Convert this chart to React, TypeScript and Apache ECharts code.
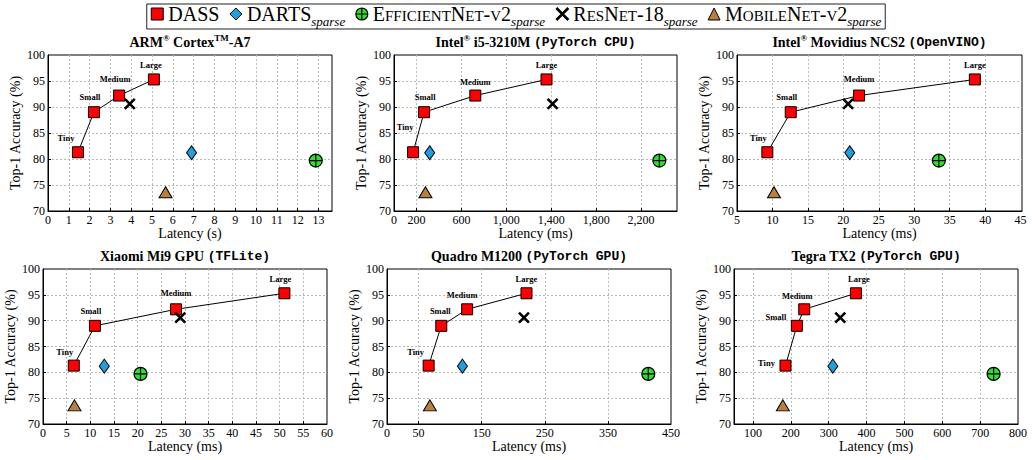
import React, { useEffect, useRef } from 'react';
import * as echarts from 'echarts';

// ---------- DATA ----------
const dassLabels = ['Tiny', 'Small', 'Medium', 'Large'];
const dassAccuracy = [81.3, 89.0, 92.2, 95.3];
// latency per panel: ARM (s), Intel CPU (ms), NCS2 (ms), Xiaomi (ms), Quadro (ms), Tegra (ms)
const dassLatency = [
  [1.44, 2.21, 3.42, 5.09],
  [170, 268, 724, 1358],
  [9.28, 12.58, 22.22, 38.55],
  [6.5, 10.97, 28.1, 51.0],
  [66, 86, 127, 221],
  [186, 216, 235.5, 372],
];
const dartsAccuracy = 81.2;
const dartsLatency = [6.9, 318, 20.9, 12.95, 119.5, 311];
const effAccuracy = 79.7;
const effLatency = [12.87, 2363, 33.47, 20.6, 414, 735.6];
const resnetAccuracy = 90.6;
const resnetLatency = [3.93, 1412, 20.67, 29.0, 217, 330.6];
const mobileAccuracy = 73.6;
const mobileLatency = [5.65, 280, 10.22, 6.65, 68, 179];

const yTickLabels = [70, 75, 80, 85, 90, 95, 100];
const yGridValues = [75, 80, 85, 90, 95];

const xAxisMin = [0, 0, 5, 0, 0, 50];
const xAxisMax = [13.65, 2520, 45.2, 60, 450, 800];
const xTickLabels = [
  [0, 1, 2, 3, 4, 5, 6, 7, 8, 9, 10, 11, 12, 13],
  [0, 200, 600, 1000, 1400, 1800, 2200],
  [5, 10, 15, 20, 25, 30, 35, 40, 45],
  [0, 5, 10, 15, 20, 25, 30, 35, 40, 45, 50, 55, 60],
  [0, 50, 150, 250, 350, 450],
  [100, 200, 300, 400, 500, 600, 700, 800],
];
const xGridValues = [
  [1, 2, 3, 4, 5, 6, 7, 8, 9, 10, 11, 12, 13],
  [200, 600, 1000, 1400, 1800, 2200],
  [10, 15, 20, 25, 30, 35, 40],
  [5, 10, 15, 20, 25, 30, 35, 40, 45, 50, 55],
  [50, 150, 250, 350],
  [100, 200, 300, 400, 500, 600, 700],
];
const xAxisNames = ['Latency (s)', 'Latency (ms)', 'Latency (ms)', 'Latency (ms)', 'Latency (ms)', 'Latency (ms)'];
const yAxisName = 'Top-1 Accuracy (%)';

const panelTitles = [
  '{b|ARM}{sup|®}{b| Cortex}{sup|TM}{b|-A7}',
  '{b|Intel}{sup|®}{b| i5-3210M }{m|(PyTorch CPU)}',
  '{b|Intel}{sup|®}{b| Movidius NCS2 }{m|(OpenVINO)}',
  '{b|Xiaomi Mi9 GPU }{m|(TFLite)}',
  '{b|Quadro M1200 }{m|(PyTorch GPU)}',
  '{b|Tegra TX2 }{m|(PyTorch GPU)}',
];

const seriesNames = ['DASS', 'DARTS', 'EfficientNet-v2', 'ResNet-18', 'MobileNet-v2'];
const legendTexts: Record<string, string> = {
  'DASS': '{b|DASS}',
  'DARTS': '{b|DARTS}{sub|sparse}',
  'EfficientNet-v2': '{b|E}{s|FFICIENT}{b|N}{s|ET}{b|-}{s|V}{b|2}{sub|sparse}',
  'ResNet-18': '{b|R}{s|ES}{b|N}{s|ET}{b|-18}{sub|sparse}',
  'MobileNet-v2': '{b|M}{s|OBILE}{b|N}{s|ET}{b|-}{s|V}{b|2}{sub|sparse}',
};

// ---------- LAYOUT / STYLE ----------
const grids = [
  { left: 48, top: 55, width: 284, height: 156 },
  { left: 394, top: 55, width: 283, height: 156 },
  { left: 737, top: 55, width: 285, height: 156 },
  { left: 43, top: 269, width: 284, height: 155 },
  { left: 387, top: 269, width: 284, height: 155 },
  { left: 734, top: 269, width: 284, height: 155 },
];
const titleTops = [33, 33, 33, 247, 247, 247];
const labelOffsets = [
  [[-12, -14], [-4, -15], [-4, -17], [-3, -14]],
  [[-8, -25], [1, -15], [0, -14], [0, -14]],
  [[-9, -14], [-4, -15], [0, -17], [0, -14]],
  [[-9, -14], [-4, -15], [0, -16], [-4, -14]],
  [[-13, -14], [-1, -15], [-5, -14], [0, -14]],
  [[-19, -3], [-21, -9], [-7, -13], [3, -14]],
];

const SERIF = '"Liberation Serif", "DejaVu Serif", serif';
const MONO = '"Liberation Mono", "DejaVu Sans Mono", monospace';

const COLORS = {
  dass: '#ff0000',
  darts: '#1f9fdf',
  eff: '#2ee02e',
  mobile: '#b8803e',
};
const EFF_SYMBOL = 'path://M10,0A10,10,0,1,1,10,20A10,10,0,1,1,10,0ZM0,10L20,10M10,0L10,20';
const X_SYMBOL = 'path://M0,0L10,10M10,0L0,10';

function fmtX(i: number, v: number) {
  if (i === 1) return Number(v).toLocaleString('en-US');
  return String(v);
}

function buildOption() {
  const grid = grids.map((g) => ({
    ...g,
    show: true,
    borderColor: '#000',
    borderWidth: 1,
    backgroundColor: '#fff',
    containLabel: false,
  }));

  const xAxis = grids.map((_, i) => ({
    type: 'value',
    gridIndex: i,
    min: xAxisMin[i],
    max: xAxisMax[i],
    name: xAxisNames[i],
    nameLocation: 'middle',
    nameGap: i < 3 ? 14 : 15,
    nameTextStyle: { fontFamily: SERIF, fontSize: 14, color: '#000' },
    axisLine: { show: true, onZero: false, lineStyle: { color: '#000', width: 1 } },
    axisTick: { show: true, inside: true, length: 3, customValues: xGridValues[i], lineStyle: { color: '#000' } },
    axisLabel: {
      show: true,
      customValues: xTickLabels[i],
      margin: 3,
      fontFamily: SERIF,
      fontSize: 12,
      color: '#000',
      formatter: (v: number) => fmtX(i, v),
    },
    splitLine: { show: true, lineStyle: { color: '#b8b8b8', width: 1, type: [2, 2] } },
  }));

  const yAxis = grids.map((_, i) => ({
    type: 'value',
    gridIndex: i,
    min: 70,
    max: 100,
    name: yAxisName,
    nameLocation: 'middle',
    nameGap: 26,
    nameTextStyle: { fontFamily: SERIF, fontSize: 14, color: '#000' },
    axisLine: { show: true, onZero: false, lineStyle: { color: '#000', width: 1 } },
    axisTick: { show: true, inside: true, length: 3, customValues: yGridValues, lineStyle: { color: '#000' } },
    axisLabel: {
      show: true,
      customValues: yTickLabels,
      margin: 3,
      fontFamily: SERIF,
      fontSize: 12,
      color: '#000',
    },
    splitLine: { show: true, lineStyle: { color: '#b8b8b8', width: 1, type: [2, 2] } },
  }));

  const title = grids.map((g, i) => ({
    text: panelTitles[i],
    left: g.left + g.width / 2,
    top: titleTops[i],
    textAlign: 'center',
    padding: 0,
    textStyle: {
      rich: {
        b: { fontFamily: SERIF, fontWeight: 'bold', fontSize: 14, color: '#000', lineHeight: 16, verticalAlign: 'bottom' },
        sup: { fontFamily: SERIF, fontWeight: 'bold', fontSize: 9, color: '#000', lineHeight: 9, verticalAlign: 'top' },
        m: { fontFamily: MONO, fontWeight: 'bold', fontSize: 13, color: '#000', lineHeight: 15, verticalAlign: 'bottom' },
      },
    },
  }));

  const series: any[] = [];
  for (let i = 0; i < 6; i++) {
    series.push({
      name: 'DASS',
      type: 'line',
      xAxisIndex: i,
      yAxisIndex: i,
      data: dassLatency[i].map((x, j) => ({
        value: [x, dassAccuracy[j]],
        label: { offset: labelOffsets[i][j] },
      })),
      symbol: 'rect',
      symbolSize: 11,
      showAllSymbol: true,
      lineStyle: { color: '#000', width: 1 },
      itemStyle: { color: COLORS.dass, borderColor: '#000', borderWidth: 1 },
      label: {
        show: true,
        position: 'inside',
        formatter: (p: any) => dassLabels[p.dataIndex],
        fontFamily: SERIF,
        fontWeight: 'bold',
        fontSize: 8.5,
        color: '#000',
      },
      z: 3,
    });
    series.push({
      name: 'DARTS',
      type: 'scatter',
      xAxisIndex: i,
      yAxisIndex: i,
      data: [[dartsLatency[i], dartsAccuracy]],
      symbol: 'diamond',
      symbolSize: [10, 14],
      itemStyle: { color: COLORS.darts, borderColor: '#000', borderWidth: 1, opacity: 1 },
      z: 3,
    });
    series.push({
      name: 'EfficientNet-v2',
      type: 'scatter',
      xAxisIndex: i,
      yAxisIndex: i,
      data: [[effLatency[i], effAccuracy]],
      symbol: EFF_SYMBOL,
      symbolSize: 13,
      itemStyle: { color: COLORS.eff, borderColor: '#000', borderWidth: 1.2, opacity: 1 },
      z: 3,
    });
    series.push({
      name: 'ResNet-18',
      type: 'scatter',
      xAxisIndex: i,
      yAxisIndex: i,
      data: [[resnetLatency[i], resnetAccuracy]],
      symbol: X_SYMBOL,
      symbolSize: 10,
      itemStyle: { color: 'rgba(0,0,0,0)', borderColor: '#000', borderWidth: 2.6, opacity: 1 },
      z: 4,
    });
    series.push({
      name: 'MobileNet-v2',
      type: 'scatter',
      xAxisIndex: i,
      yAxisIndex: i,
      data: [[mobileLatency[i], mobileAccuracy]],
      symbol: 'triangle',
      symbolSize: [13, 11],
      itemStyle: { color: COLORS.mobile, borderColor: '#000', borderWidth: 1, opacity: 1 },
      z: 3,
    });
  }

  const legendIcons: Record<string, any> = {
    'DASS': { icon: 'rect', itemStyle: { color: COLORS.dass, borderColor: '#000', borderWidth: 1 } },
    'DARTS': { icon: 'diamond', itemStyle: { color: COLORS.darts, borderColor: '#000', borderWidth: 1 } },
    'EfficientNet-v2': { icon: EFF_SYMBOL, itemStyle: { color: COLORS.eff, borderColor: '#000', borderWidth: 1.2 } },
    'ResNet-18': { icon: X_SYMBOL, itemStyle: { color: 'rgba(0,0,0,0)', borderColor: '#000', borderWidth: 2.6 } },
    'MobileNet-v2': { icon: 'triangle', itemStyle: { color: COLORS.mobile, borderColor: '#000', borderWidth: 1 } },
  };

  return {
    animation: false,
    backgroundColor: '#fff',
    title,
    legend: {
      show: true,
      top: 4,
      left: 'center',
      itemWidth: 12,
      itemHeight: 12,
      itemGap: 10,
      selectedMode: false,
      borderColor: '#222',
      borderWidth: 1,
      padding: [0, 4, 0, 4],
      backgroundColor: '#fff',
      data: seriesNames.map((n) => ({ name: n, ...legendIcons[n] })),
      formatter: (n: string) => legendTexts[n],
      textStyle: {
        rich: {
          b: { fontFamily: SERIF, fontSize: 20, color: '#000', lineHeight: 20, padding: [0, 0, 5, 0], verticalAlign: 'top' },
          s: { fontFamily: SERIF, fontSize: 15, color: '#000', lineHeight: 15, padding: [4, 0, 6, 0], verticalAlign: 'top' },
          sub: { fontFamily: SERIF, fontStyle: 'italic', fontSize: 13, color: '#000', lineHeight: 13, padding: [11, 0, 1, 0], verticalAlign: 'top' },
        },
      },
    },
    grid,
    xAxis,
    yAxis,
    series,
  };
}

export default function App() {
  const ref = useRef<HTMLDivElement>(null);
  useEffect(() => {
    if (!ref.current) return;
    const chart = echarts.init(ref.current, undefined, { renderer: 'svg' });
    chart.setOption(buildOption() as any);
    return () => chart.dispose();
  }, []);
  return (
    <div
      ref={ref}
      style={{ position: 'absolute', left: 0, top: 0, width: 1032, height: 460, background: '#fff' }}
    />
  );
}
